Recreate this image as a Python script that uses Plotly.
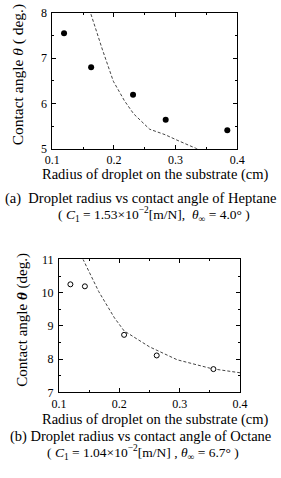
import plotly.graph_objects as go

# Heptane (a)
hep_r = [0.119, 0.163, 0.231, 0.284, 0.384]
hep_theta = [7.55, 6.80, 6.19, 5.64, 5.41]
hep_fit_r = [0.155, 0.162, 0.181, 0.199, 0.217, 0.232, 0.258, 0.283, 0.304, 0.334, 0.36]
hep_fit_theta = [8.4, 8.0, 7.2, 6.49, 6.06, 5.77, 5.43, 5.31, 5.18, 5.0, 4.85]

# Octane (b)
oct_r = [0.119, 0.143, 0.208, 0.262, 0.356]
oct_theta = [10.25, 10.19, 8.73, 8.11, 7.70]
oct_fit_r = [0.135, 0.140, 0.166, 0.192, 0.208, 0.25, 0.296, 0.354, 0.40]
oct_fit_theta = [11.3, 11.0, 10.03, 9.24, 8.85, 8.37, 7.98, 7.71, 7.59]

W, H = 281, 478
FONT = "Liberation Serif"

fig = go.Figure()
fig.add_trace(go.Scatter(x=hep_fit_r, y=hep_fit_theta, mode="lines",
                         line=dict(color="#444", width=1, dash="3px,2px"),
                         xaxis="x", yaxis="y", showlegend=False))
fig.add_trace(go.Scatter(x=hep_r, y=hep_theta, mode="markers",
                         marker=dict(color="black", size=6),
                         xaxis="x", yaxis="y", showlegend=False))
fig.add_trace(go.Scatter(x=oct_fit_r, y=oct_fit_theta, mode="lines",
                         line=dict(color="#444", width=1, dash="3px,2px"),
                         xaxis="x2", yaxis="y2", showlegend=False))
fig.add_trace(go.Scatter(x=oct_r, y=oct_theta, mode="markers",
                         marker=dict(color="white", size=5, line=dict(color="black", width=1)),
                         xaxis="x2", yaxis="y2", showlegend=False))

axcommon = dict(showline=True, linecolor="black", linewidth=1, mirror="allticks",
                ticks="inside", ticklen=4, tickcolor="black", showgrid=False,
                zeroline=False, tickfont=dict(family=FONT, size=12, color="black"))
minor_x = dict(dtick=0.05, ticks="inside", ticklen=2, tickcolor="black", showgrid=False)
minor_y = dict(dtick=0.5, ticks="inside", ticklen=2, tickcolor="black", showgrid=False)

def px(xv):
    return xv / W

def py(yv):
    return 1 - yv / H

fig.update_layout(
    width=W, height=H, margin=dict(l=0, r=0, t=0, b=0),
    paper_bgcolor="white", plot_bgcolor="white",
    xaxis=dict(domain=[px(47), px(243)], range=[0.1, 0.4], dtick=0.1, tickformat=".1f",
               anchor="y", minor=minor_x, ticklabelstandoff=0, **axcommon),
    yaxis=dict(domain=[py(146), py(6)], range=[5, 8], dtick=1, anchor="x",
               minor=minor_y, ticklabelstandoff=2, **axcommon),
    xaxis2=dict(domain=[px(54), px(246)], range=[0.1, 0.4], dtick=0.1, tickformat=".1f",
                anchor="y2", minor=minor_x, ticklabelstandoff=0, **axcommon),
    yaxis2=dict(domain=[py(397), py(260)], range=[7, 11], dtick=1, anchor="x2",
                minor=minor_y, ticklabelstandoff=2, **axcommon),
)

def ann(text, x, y, size=13, angle=0):
    fig.add_annotation(text=text, x=px(x), y=py(y), xref="paper", yref="paper",
                       showarrow=False, xanchor="center", yanchor="middle",
                       textangle=angle, font=dict(family=FONT, size=size, color="black"))

ann("Contact angle <i>θ</i> ( deg.)", 11, 70, size=15.5, angle=-90)
ann("Radius of droplet on the substrate (cm)", 156, 173, size=14.5)
ann("(a)  Droplet radius vs contact angle of Heptane", 140, 197, size=14.5)
ann("( <i>C</i><sub>1</sub> = 1.53×10<sup>−2</sup>[m/N],  <i>θ</i><sub>∞</sub> = 4.0° )", 155, 214, size=13.5)

ann("Contact angle <b><i>θ</i></b> (deg.)", 15, 322, size=15, angle=-90)
ann("Radius of droplet on the substrate (cm)", 156, 425, size=14.5)
ann("(b) Droplet radius vs contact angle of Octane", 141, 442, size=14.5)
ann("( <i>C</i><sub>1</sub> = 1.04×10<sup>−2</sup>[m/N] , <i>θ</i><sub>∞</sub> = 6.7° )", 143, 459, size=13.5)

fig.write_html("out.html")
